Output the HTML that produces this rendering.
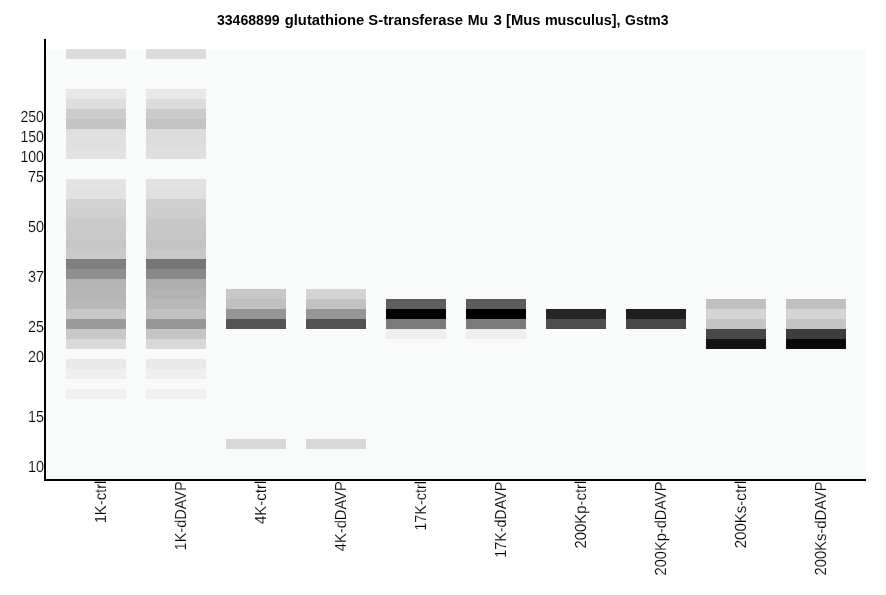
<!DOCTYPE html>
<html><head><meta charset="utf-8"><title>33468899 glutathione S-transferase Mu 3</title>
<style>html,body{margin:0;padding:0;background:#fff;overflow:hidden}svg{display:block}text{font-family:"Liberation Sans",sans-serif;fill:#000}.thin{text-rendering:geometricPrecision;stroke:#fff;stroke-width:0.16px}</style></head><body>
<svg width="886" height="595" viewBox="0 0 886 595" shape-rendering="crispEdges">
<rect x="0" y="0" width="886" height="595" fill="#fff"/>
<rect x="46" y="49" width="820" height="430" fill="#f9fafa"/>
<rect x="66" y="49" width="60" height="10" fill="#dbdbdb"/>
<rect x="66" y="89" width="60" height="10" fill="#e8e8e8"/>
<rect x="66" y="99" width="60" height="10" fill="#dedede"/>
<rect x="66" y="109" width="60" height="10" fill="#cdcdcd"/>
<rect x="66" y="119" width="60" height="10" fill="#c4c4c4"/>
<rect x="66" y="129" width="60" height="10" fill="#e0e0e0"/>
<rect x="66" y="139" width="60" height="10" fill="#e0e0e0"/>
<rect x="66" y="149" width="60" height="10" fill="#e2e2e2"/>
<rect x="66" y="179" width="60" height="10" fill="#e4e4e4"/>
<rect x="66" y="189" width="60" height="10" fill="#e2e2e2"/>
<rect x="66" y="199" width="60" height="10" fill="#d2d2d2"/>
<rect x="66" y="209" width="60" height="10" fill="#cfcfcf"/>
<rect x="66" y="219" width="60" height="10" fill="#cacaca"/>
<rect x="66" y="229" width="60" height="10" fill="#c9c9c9"/>
<rect x="66" y="239" width="60" height="10" fill="#c6c6c6"/>
<rect x="66" y="249" width="60" height="10" fill="#cacaca"/>
<rect x="66" y="259" width="60" height="10" fill="#7f7f7f"/>
<rect x="66" y="269" width="60" height="10" fill="#8f8f8f"/>
<rect x="66" y="279" width="60" height="10" fill="#b4b4b4"/>
<rect x="66" y="289" width="60" height="10" fill="#b6b6b6"/>
<rect x="66" y="299" width="60" height="10" fill="#b9b9b9"/>
<rect x="66" y="309" width="60" height="10" fill="#c8c8c8"/>
<rect x="66" y="319" width="60" height="10" fill="#9a9a9a"/>
<rect x="66" y="329" width="60" height="10" fill="#c8c8c8"/>
<rect x="66" y="339" width="60" height="10" fill="#dadada"/>
<rect x="66" y="359" width="60" height="10" fill="#e9e9e9"/>
<rect x="66" y="369" width="60" height="10" fill="#efefef"/>
<rect x="66" y="389" width="60" height="10" fill="#f1f1f1"/>
<rect x="146" y="49" width="60" height="10" fill="#dbdbdb"/>
<rect x="146" y="89" width="60" height="10" fill="#e8e8e8"/>
<rect x="146" y="99" width="60" height="10" fill="#dcdcdc"/>
<rect x="146" y="109" width="60" height="10" fill="#cbcbcb"/>
<rect x="146" y="119" width="60" height="10" fill="#c3c3c3"/>
<rect x="146" y="129" width="60" height="10" fill="#dddddd"/>
<rect x="146" y="139" width="60" height="10" fill="#dddddd"/>
<rect x="146" y="149" width="60" height="10" fill="#dfdfdf"/>
<rect x="146" y="179" width="60" height="10" fill="#e2e2e2"/>
<rect x="146" y="189" width="60" height="10" fill="#e0e0e0"/>
<rect x="146" y="199" width="60" height="10" fill="#cfcfcf"/>
<rect x="146" y="209" width="60" height="10" fill="#cdcdcd"/>
<rect x="146" y="219" width="60" height="10" fill="#c7c7c7"/>
<rect x="146" y="229" width="60" height="10" fill="#c6c6c6"/>
<rect x="146" y="239" width="60" height="10" fill="#c3c3c3"/>
<rect x="146" y="249" width="60" height="10" fill="#c8c8c8"/>
<rect x="146" y="259" width="60" height="10" fill="#767676"/>
<rect x="146" y="269" width="60" height="10" fill="#898989"/>
<rect x="146" y="279" width="60" height="10" fill="#aeaeae"/>
<rect x="146" y="289" width="60" height="10" fill="#b3b3b3"/>
<rect x="146" y="299" width="60" height="10" fill="#b8b8b8"/>
<rect x="146" y="309" width="60" height="10" fill="#c1c1c1"/>
<rect x="146" y="319" width="60" height="10" fill="#979797"/>
<rect x="146" y="329" width="60" height="10" fill="#c5c5c5"/>
<rect x="146" y="339" width="60" height="10" fill="#d8d8d8"/>
<rect x="146" y="359" width="60" height="10" fill="#e9e9e9"/>
<rect x="146" y="369" width="60" height="10" fill="#efefef"/>
<rect x="146" y="389" width="60" height="10" fill="#f1f1f1"/>
<rect x="226" y="289" width="60" height="10" fill="#c8c8c8"/>
<rect x="226" y="299" width="60" height="10" fill="#c0c0c0"/>
<rect x="226" y="309" width="60" height="10" fill="#969696"/>
<rect x="226" y="319" width="60" height="10" fill="#545454"/>
<rect x="226" y="439" width="60" height="10" fill="#d8d8d8"/>
<rect x="306" y="289" width="60" height="10" fill="#d4d4d4"/>
<rect x="306" y="299" width="60" height="10" fill="#c2c2c2"/>
<rect x="306" y="309" width="60" height="10" fill="#969696"/>
<rect x="306" y="319" width="60" height="10" fill="#525252"/>
<rect x="306" y="439" width="60" height="10" fill="#d8d8d8"/>
<rect x="386" y="299" width="60" height="10" fill="#5e5e5e"/>
<rect x="386" y="309" width="60" height="10" fill="#030303"/>
<rect x="386" y="319" width="60" height="10" fill="#7a7a7a"/>
<rect x="386" y="329" width="60" height="10" fill="#efefef"/>
<rect x="466" y="299" width="60" height="10" fill="#5c5c5c"/>
<rect x="466" y="309" width="60" height="10" fill="#000000"/>
<rect x="466" y="319" width="60" height="10" fill="#7a7a7a"/>
<rect x="466" y="329" width="60" height="10" fill="#efefef"/>
<rect x="546" y="309" width="60" height="10" fill="#252525"/>
<rect x="546" y="319" width="60" height="10" fill="#4f4f4f"/>
<rect x="626" y="309" width="60" height="10" fill="#1e1e1e"/>
<rect x="626" y="319" width="60" height="10" fill="#484848"/>
<rect x="706" y="299" width="60" height="10" fill="#c0c0c0"/>
<rect x="706" y="309" width="60" height="10" fill="#d4d4d4"/>
<rect x="706" y="319" width="60" height="10" fill="#c4c4c4"/>
<rect x="706" y="329" width="60" height="10" fill="#484848"/>
<rect x="706" y="339" width="60" height="10" fill="#121212"/>
<rect x="786" y="299" width="60" height="10" fill="#c0c0c0"/>
<rect x="786" y="309" width="60" height="10" fill="#d4d4d4"/>
<rect x="786" y="319" width="60" height="10" fill="#c4c4c4"/>
<rect x="786" y="329" width="60" height="10" fill="#3c3c3c"/>
<rect x="786" y="339" width="60" height="10" fill="#090909"/>
<rect x="44" y="39" width="2" height="442" fill="#000"/>
<rect x="44" y="479" width="822" height="2" fill="#000"/>
<g font-size="14.5" font-weight="bold"><text x="216.9" y="24.8" textLength="62.7" lengthAdjust="spacingAndGlyphs">33468899</text> <text x="284.75" y="24.8" textLength="79.52" lengthAdjust="spacingAndGlyphs">glutathione</text> <text x="368.34" y="24.8" textLength="94.69" lengthAdjust="spacingAndGlyphs">S-transferase</text> <text x="467.79" y="24.8" textLength="20.44" lengthAdjust="spacingAndGlyphs">Mu</text> <text x="493.6" y="24.8" textLength="8.47" lengthAdjust="spacingAndGlyphs">3</text> <text x="506.05" y="24.8" textLength="34.46" lengthAdjust="spacingAndGlyphs">[Mus</text> <text x="544.88" y="24.8" textLength="75.55" lengthAdjust="spacingAndGlyphs">musculus],</text> <text x="625.0" y="24.8" textLength="43.58" lengthAdjust="spacingAndGlyphs">Gstm3</text></g>
<text x="20.40" y="122" font-size="16" class="thin" textLength="23.5" lengthAdjust="spacingAndGlyphs">250</text>
<text x="20.40" y="142" font-size="16" class="thin" textLength="23.5" lengthAdjust="spacingAndGlyphs">150</text>
<text x="20.40" y="162" font-size="16" class="thin" textLength="23.5" lengthAdjust="spacingAndGlyphs">100</text>
<text x="27.90" y="182" font-size="16" class="thin" textLength="16.0" lengthAdjust="spacingAndGlyphs">75</text>
<text x="27.90" y="232" font-size="16" class="thin" textLength="16.0" lengthAdjust="spacingAndGlyphs">50</text>
<text x="27.90" y="282" font-size="16" class="thin" textLength="16.0" lengthAdjust="spacingAndGlyphs">37</text>
<text x="27.90" y="332" font-size="16" class="thin" textLength="16.0" lengthAdjust="spacingAndGlyphs">25</text>
<text x="27.90" y="362" font-size="16" class="thin" textLength="16.0" lengthAdjust="spacingAndGlyphs">20</text>
<text x="27.90" y="422" font-size="16" class="thin" textLength="16.0" lengthAdjust="spacingAndGlyphs">15</text>
<text x="27.90" y="472" font-size="16" class="thin" textLength="16.0" lengthAdjust="spacingAndGlyphs">10</text>
<text transform="translate(105.9,523.35) rotate(-90)" font-size="16" class="thin" textLength="42.71" lengthAdjust="spacingAndGlyphs">1K-ctrl</text>
<text transform="translate(185.9,550.44) rotate(-90)" font-size="16" class="thin" textLength="69.1" lengthAdjust="spacingAndGlyphs">1K-dDAVP</text>
<text transform="translate(265.9,524.0) rotate(-90)" font-size="16" class="thin" textLength="43.37" lengthAdjust="spacingAndGlyphs">4K-ctrl</text>
<text transform="translate(345.9,551.2) rotate(-90)" font-size="16" class="thin" textLength="69.87" lengthAdjust="spacingAndGlyphs">4K-dDAVP</text>
<text transform="translate(425.9,530.83) rotate(-90)" font-size="16" class="thin" textLength="49.81" lengthAdjust="spacingAndGlyphs">17K-ctrl</text>
<text transform="translate(505.9,557.72) rotate(-90)" font-size="16" class="thin" textLength="75.91" lengthAdjust="spacingAndGlyphs">17K-dDAVP</text>
<text transform="translate(585.9,548.56) rotate(-90)" font-size="16" class="thin" textLength="67.89" lengthAdjust="spacingAndGlyphs">200Kp-ctrl</text>
<text transform="translate(665.9,575.44) rotate(-90)" font-size="16" class="thin" textLength="93.87" lengthAdjust="spacingAndGlyphs">200Kp-dDAVP</text>
<text transform="translate(745.9,548.37) rotate(-90)" font-size="16" class="thin" textLength="67.83" lengthAdjust="spacingAndGlyphs">200Ks-ctrl</text>
<text transform="translate(825.9,575.45) rotate(-90)" font-size="16" class="thin" textLength="94.01" lengthAdjust="spacingAndGlyphs">200Ks-dDAVP</text>
</svg></body></html>
